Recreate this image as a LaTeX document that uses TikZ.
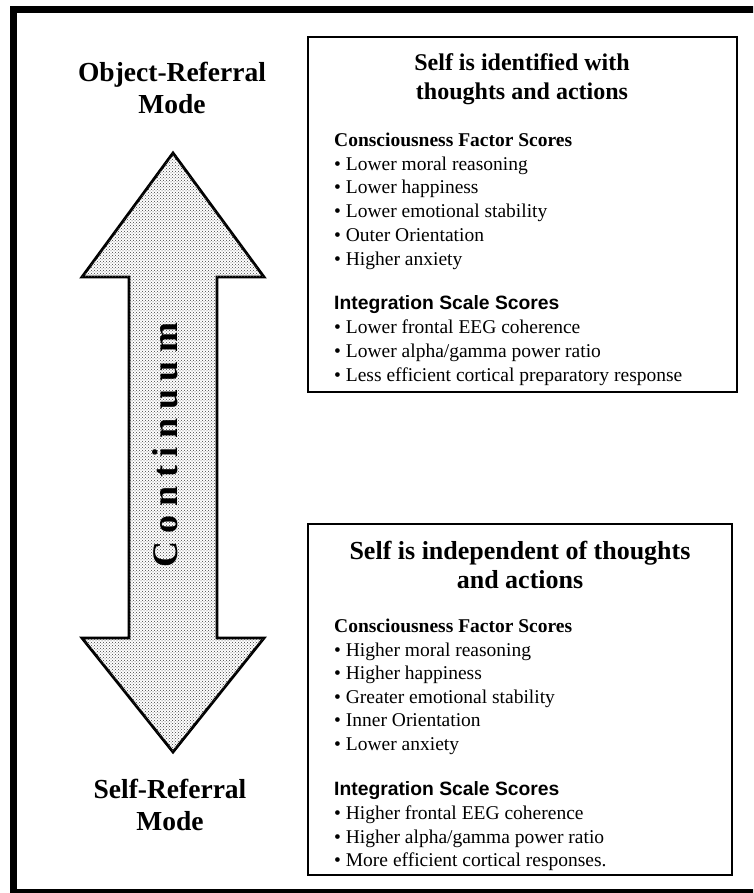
\documentclass[tikz,border=0pt]{standalone}
\usepackage{fontspec}
\setmainfont{Liberation Serif}
\newfontfamily\hvfont{Liberation Sans}
\newfontfamily\spaced[LetterSpace=24]{Liberation Serif}
\usetikzlibrary{patterns}
\tikzset{
  modelabel/.style={anchor=base, inner sep=0pt, font=\fontsize{27.5}{31}\selectfont\bfseries},
  boxtitle/.style={anchor=base, inner sep=0pt, font=\fontsize{24}{29}\selectfont\bfseries},
  boxtitlebig/.style={anchor=base, inner sep=0pt, font=\fontsize{26}{30}\selectfont\bfseries},
  heading/.style={anchor=base west, inner sep=0pt, font=\fontsize{19.5}{23}\selectfont\bfseries},
  sansheading/.style={anchor=base west, inner sep=0pt, font=\fontsize{19.3}{23}\selectfont\hvfont\bfseries},
  item/.style={anchor=base west, inner sep=0pt, font=\fontsize{19.5}{23}\selectfont},
  panel/.style={draw=black, line width=2.6pt},
}
\begin{document}
\begin{tikzpicture}[x=1pt,y=-1pt]
\useasboundingbox (0,0) rectangle (753,893);
\clip (0,0) rectangle (753,893);
\fill[white] (0,0) rectangle (753,893);
% outer frame
\draw[line width=7pt] (13.5,9.5) rectangle (775,892);

% arrow
\path[draw=black, line width=2.8pt, line join=miter, fill=white, postaction={pattern=crosshatch dots, pattern color=black!75}]
  (173,153) -- (264,277) -- (217,277) -- (217,638) -- (264,638) -- (173,752)
  -- (82,638) -- (129,638) -- (129,277) -- (82,277) -- cycle;
\node[rotate=90, inner sep=0pt, font=\fontsize{36}{40}\selectfont\spaced\bfseries] (cont) at (165,445) {Continuum};

% left labels
\node[modelabel] (orm1) at (172,81.5) {Object-Referral};
\node[modelabel] (orm2) at (172,113.5) {Mode};
\node[modelabel] (srm1) at (170,798.5) {Self-Referral};
\node[modelabel] (srm2) at (170,830.5) {Mode};

% top box
\draw[panel] (308,37) rectangle (737,392);
\node[boxtitle] (t1a) at (522,71) {Self is identified with};
\node[boxtitle] (t1b) at (522,100) {thoughts and actions};
\node[heading] (h1) at (334,147) {Consciousness Factor Scores};
\node[item] (a1) at (334,170.5) {• Lower moral reasoning};
\node[item] (a2) at (334,194) {• Lower happiness};
\node[item] (a3) at (334,218) {• Lower emotional stability};
\node[item] (a4) at (334,241.5) {• Outer Orientation};
\node[item] (a5) at (334,265) {• Higher anxiety};
\node[sansheading] (h2) at (334,309) {Integration Scale Scores};
\node[item] (b1) at (334,333) {• Lower frontal EEG coherence};
\node[item] (b2) at (334,357.5) {• Lower alpha/gamma power ratio};
\node[item] (b3) at (334,381.5) {• Less efficient cortical preparatory response};

% bottom box
\draw[panel] (308,524) rectangle (732,875);
\node[boxtitlebig] (t2a) at (520,559) {Self is independent of thoughts};
\node[boxtitlebig] (t2b) at (520,588) {and actions};
\node[heading] (h3) at (334,632) {Consciousness Factor Scores};
\node[item] (c1) at (334,656) {• Higher moral reasoning};
\node[item] (c2) at (334,679.5) {• Higher happiness};
\node[item] (c3) at (334,703) {• Greater emotional stability};
\node[item] (c4) at (334,726.5) {• Inner Orientation};
\node[item] (c5) at (334,750) {• Lower anxiety};
\node[sansheading] (h4) at (334,795) {Integration Scale Scores};
\node[item] (d1) at (334,819) {• Higher frontal EEG coherence};
\node[item] (d2) at (334,843) {• Higher alpha/gamma power ratio};
\node[item] (d3) at (334,866.5) {• More efficient cortical responses.};
\end{tikzpicture}
\end{document}
